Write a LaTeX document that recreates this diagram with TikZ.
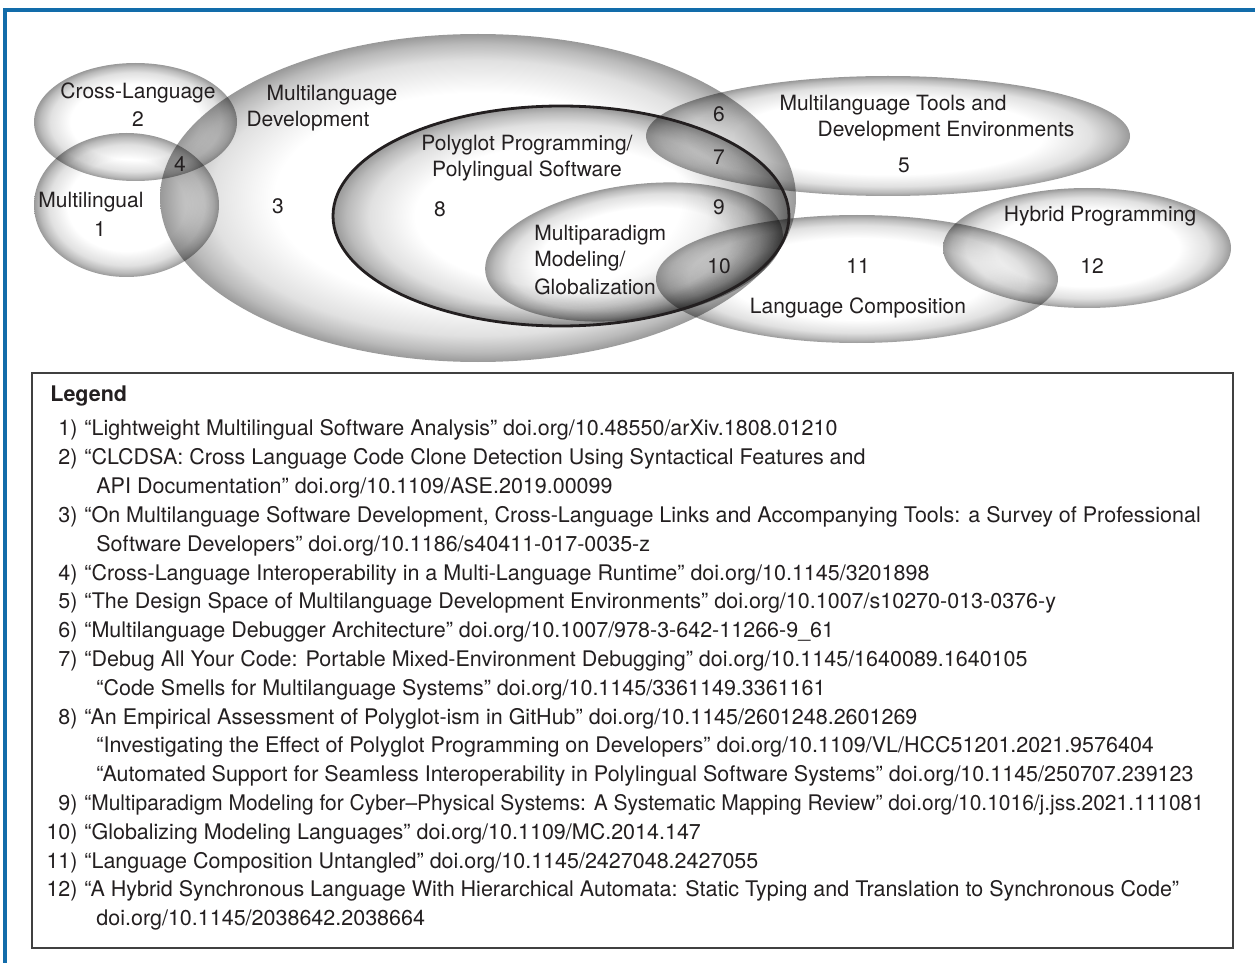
\documentclass[tikz,border=0pt]{standalone}
\usepackage{fontspec}
\setmainfont{TeX Gyre Heros}
\definecolor{frameBlue}{RGB}{18,108,170}
\definecolor{ink}{RGB}{35,31,32}
\pgfdeclareradialshading{vennshade}{\pgfpoint{0bp}{0bp}}{color(0bp)=(white); color(16bp)=(white); color(21bp)=(black!12); color(23.5bp)=(black!27); color(25bp)=(black!40); color(50bp)=(black!40)}
\tikzset{vset/.style={shading=vennshade, blend mode=multiply}}
\tikzset{lab/.style={font=\fontsize{10.5}{12}\selectfont, text=ink, inner sep=0pt}}
\tikzset{num/.style={lab, font=\fontsize{10.75}{12}\selectfont, anchor=base east}}
\tikzset{ref/.style={lab, font=\fontsize{10.75}{12}\selectfont, anchor=base west}}
\begin{document}
\begin{tikzpicture}[x=0.5pt,y=-0.5pt]
        \useasboundingbox (0,0) rectangle (1255,963);
        \draw[frameBlue, line width=2pt] (5,10) rectangle (1300,1000);
        %% sets
        \shade[vset] (135.5,122) ellipse (101.5 and 59);
        \shade[vset] (126.5,205) ellipse (92.5 and 72);
        \shade[vset] (478,198) ellipse (318 and 164);
        \shade[vset] (561,216) ellipse (228 and 110);
        \shade[vset, transform canvas={shift={(634,252)}, rotate=8}] (0,0) ellipse (150 and 67);
        \shade[vset] (888,136) ellipse (242 and 60);
        \shade[vset] (857,279) ellipse (201 and 64);
        \shade[vset] (1087,248) ellipse (144 and 60);
        \draw[ink, line width=1.4pt] (561,216) ellipse (228 and 110);
        %% set labels
        \node[lab] (cross) at (138,93) {Cross-Language};
        \node[lab] (c2) at (138,119) {2};
        \node[lab] (mling) at (91,202) {Multilingual};
        \node[lab] (c1) at (100,229) {1};
        \node[lab] (c4) at (180,164) {4};
        \node[lab] (c3) at (278,206) {3};
        \node[lab] (mdev1) at (332,95) {Multilanguage};
        \node[lab] (mdev2) at (308,121) {Development};
        \node[lab] (poly1) at (527,145) {Polyglot Programming/};
        \node[lab] (poly2) at (527,171) {Polylingual Software};
        \node[lab] (c8) at (440,209) {8};
        \node[lab] (c6) at (719,114) {6};
        \node[lab] (c7) at (719,157) {7};
        \node[lab] (c9) at (719,207) {9};
        \node[lab] (c10) at (719,266) {10};
        \node[lab, anchor=west] (mpar1) at (534,235) {Multiparadigm};
        \node[lab, anchor=west] (mpar2) at (534,261) {Modeling/};
        \node[lab, anchor=west] (mpar3) at (534,287) {Globalization};
        \node[lab] (tools1) at (893,105) {Multilanguage Tools and};
        \node[lab] (tools2) at (946,131) {Development Environments};
        \node[lab] (c5) at (904,165) {5};
        \node[lab] (hyb) at (1100,216) {Hybrid Programming};
        \node[lab] (c12) at (1092,266) {12};
        \node[lab] (c11) at (858,266) {11};
        \node[lab] (lcomp) at (858,308) {Language Composition};
        %% legend
        \draw[black!75, line width=0.8pt] (32,373) rectangle (1233,948);
        \node[ref, font=\fontsize{10.75}{12}\selectfont\bfseries] (legend) at (50,401) {Legend};
        \node[num] (n1) at (78,436) {1)};
        \node[ref] (r1) at (84,436) {“Lightweight Multilingual Software Analysis” doi.org/10.48550/arXiv.1808.01210};
        \node[num] (n2) at (78,464.8) {2)};
        \node[ref] (r2) at (84,464.8) {“CLCDSA: Cross Language Code Clone Detection Using Syntactical Features and};
        \node[ref] (r2b) at (96,493.6) {API Documentation” doi.org/10.1109/ASE.2019.00099};
        \node[num] (n3) at (78,522.4) {3)};
        \node[ref] (r3) at (84,522.4) {“On Multilanguage Software Development, Cross-Language Links and Accompanying Tools: a Survey of Professional};
        \node[ref] (r3b) at (96,551.2) {Software Developers” doi.org/10.1186/s40411-017-0035-z};
        \node[num] (n4) at (78,580) {4)};
        \node[ref] (r4) at (84,580) {“Cross-Language Interoperability in a Multi-Language Runtime” doi.org/10.1145/3201898};
        \node[num] (n5) at (78,608.8) {5)};
        \node[ref] (r5) at (84,608.8) {“The Design Space of Multilanguage Development Environments” doi.org/10.1007/s10270-013-0376-y};
        \node[num] (n6) at (78,637.6) {6)};
        \node[ref] (r6) at (84,637.6) {“Multilanguage Debugger Architecture” doi.org/10.1007/978-3-642-11266-9\_61};
        \node[num] (n7) at (78,666.4) {7)};
        \node[ref] (r7) at (84,666.4) {“Debug All Your Code: Portable Mixed-Environment Debugging” doi.org/10.1145/1640089.1640105};
        \node[ref] (r7b) at (96,695.2) {“Code Smells for Multilanguage Systems” doi.org/10.1145/3361149.3361161};
        \node[num] (n8) at (78,724) {8)};
        \node[ref] (r8) at (84,724) {“An Empirical Assessment of Polyglot-ism in GitHub” doi.org/10.1145/2601248.2601269};
        \node[ref] (r8b) at (96,752.8) {“Investigating the Effect of Polyglot Programming on Developers” doi.org/10.1109/VL/HCC51201.2021.9576404};
        \node[ref] (r8c) at (96,781.6) {“Automated Support for Seamless Interoperability in Polylingual Software Systems” doi.org/10.1145/250707.239123};
        \node[num] (n9) at (78,810.4) {9)};
        \node[ref] (r9) at (84,810.4) {\scalebox{0.975}[1]{“Multiparadigm Modeling for Cyber–Physical Systems: A Systematic Mapping Review” doi.org/10.1016/j.jss.2021.111081}};
        \node[num] (n10) at (78,839.2) {10)};
        \node[ref] (r10) at (84,839.2) {“Globalizing Modeling Languages” doi.org/10.1109/MC.2014.147};
        \node[num] (n11) at (78,868) {11)};
        \node[ref] (r11) at (84,868) {“Language Composition Untangled” doi.org/10.1145/2427048.2427055};
        \node[num] (n12) at (78,896.8) {12)};
        \node[ref] (r12) at (84,896.8) {“A Hybrid Synchronous Language With Hierarchical Automata: Static Typing and Translation to Synchronous Code”};
        \node[ref] (r12b) at (96,925.6) {doi.org/10.1145/2038642.2038664};
\end{tikzpicture}
\end{document}
